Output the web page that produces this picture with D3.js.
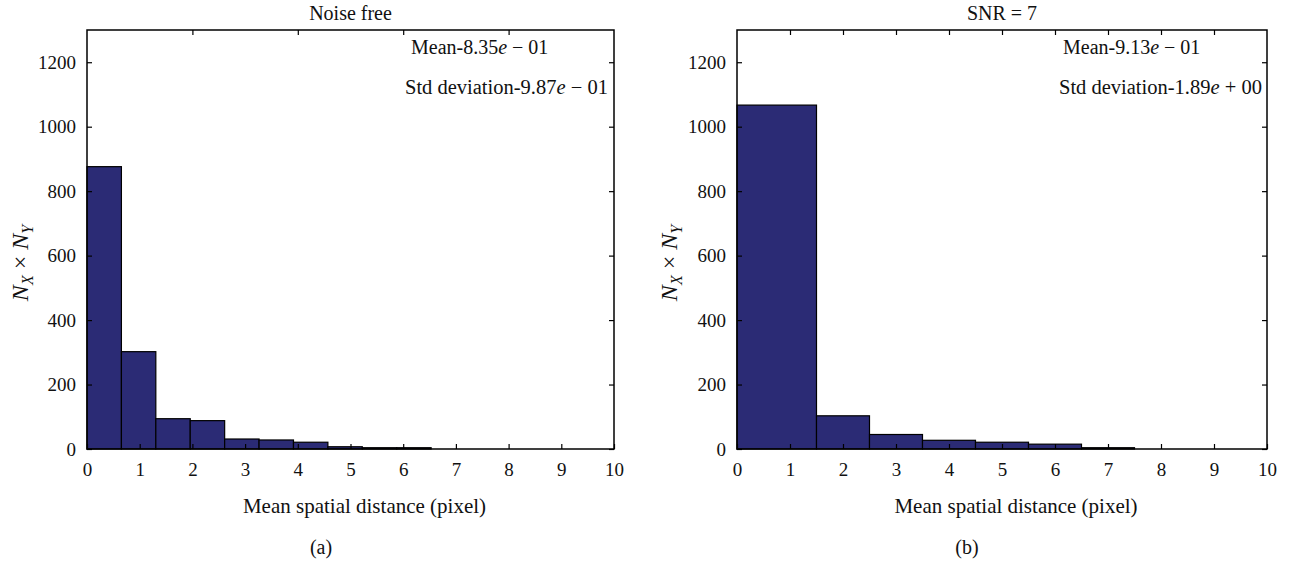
<!DOCTYPE html>
<html>
<head>
<meta charset="utf-8">
<script src="https://cdn.jsdelivr.net/npm/d3@7"></script>
<style>
  body { margin: 0; background: #fff; }
  text { font-family: "Liberation Serif", "DejaVu Serif", serif; fill: #111; }
</style>
</head>
<body>
<div id="chart"></div>
<script>
// histogram data
const leftEdges = [0, 0.653, 1.306, 1.959, 2.612, 3.265, 3.918, 4.571, 5.224, 5.877, 6.53];
const leftCounts = [876, 302, 94, 88, 31, 28, 21, 7, 4, 4];
const rightEdges = [0, 1.5, 2.5, 3.5, 4.5, 5.5, 6.5, 7.5];
const rightCounts = [1067, 103, 45, 27, 21, 15, 4];

const xTicks = [0, 1, 2, 3, 4, 5, 6, 7, 8, 9, 10];
const yTicks = [0, 200, 400, 600, 800, 1000, 1200];
const leftTopTicks = [2, 4, 6, 8];
const rightTopTicks = [1, 2, 3, 4, 5, 6, 7, 8, 9];

const width = 1291, height = 561;
const barColor = "#2b2b75";

let svg = d3.select("#chart")
    .append("svg")
    .attr("width", width)
    .attr("height", height);

function drawPanel(opts) {
    let x = d3.scaleLinear().domain([0, 10]).range([opts.x0, opts.x1]);
    let y = d3.scaleLinear().domain([0, 1300]).range([449, 30]);

    let g = svg.append("g");

    let bins = opts.counts.map((c, i) => ({x0: opts.edges[i], x1: opts.edges[i + 1], n: c}));

    g.selectAll("rect.bar")
        .data(bins)
        .enter()
        .append("rect")
        .attr("class", "bar")
        .attr("x", d => x(d.x0))
        .attr("y", d => y(d.n))
        .attr("width", d => x(d.x1) - x(d.x0))
        .attr("height", d => y(0) - y(d.n))
        .attr("fill", barColor)
        .attr("stroke", "#000")
        .attr("stroke-width", 1.2);

    // frame
    g.append("rect")
        .attr("x", x(0))
        .attr("y", y(1300))
        .attr("width", x(10) - x(0))
        .attr("height", y(0) - y(1300))
        .attr("fill", "none")
        .attr("stroke", "#000")
        .attr("stroke-width", 1.5);

    // bottom axis, ticks point inward
    let bottom = g.append("g")
        .attr("transform", `translate(0, ${y(0)})`)
        .call(d3.axisBottom(x).tickValues(xTicks).tickSize(-5).tickPadding(14).tickFormat(d3.format("d")));
    bottom.select(".domain").remove();

    let top = g.append("g")
        .attr("transform", `translate(0, ${y(1300)})`)
        .call(d3.axisTop(x).tickValues(opts.topTicks).tickSize(-5).tickFormat(""));
    top.select(".domain").remove();

    let left = g.append("g")
        .attr("transform", `translate(${x(0)}, 0)`)
        .call(d3.axisLeft(y).tickValues(yTicks).tickSize(-5).tickPadding(11).tickFormat(d3.format("d")));
    left.select(".domain").remove();

    let right = g.append("g")
        .attr("transform", `translate(${x(10)}, 0)`)
        .call(d3.axisRight(y).tickValues(yTicks).tickSize(-5).tickFormat(""));
    right.select(".domain").remove();

    g.selectAll(".tick line").attr("stroke", "#000").attr("stroke-width", 1.2);
    g.selectAll(".tick text")
        .style("font-family", "Liberation Serif, serif")
        .style("font-size", "19px")
        .attr("fill", "#111");

    // title
    g.append("text")
        .attr("x", (x(0) + x(10)) / 2)
        .attr("y", 20)
        .style("text-anchor", "middle")
        .style("font-size", "20px")
        .text(opts.title);

    // stats
    let m = g.append("text")
        .attr("x", opts.meanX)
        .attr("y", 54)
        .style("font-size", "20px");
    m.append("tspan").text(opts.mean[0]);
    m.append("tspan").style("font-style", "italic").text("e");
    m.append("tspan").text(opts.mean[1]);

    let s = g.append("text")
        .attr("x", opts.stdX)
        .attr("y", 94)
        .style("font-size", "20.5px");
    s.append("tspan").text(opts.std[0]);
    s.append("tspan").style("font-style", "italic").text("e");
    s.append("tspan").text(opts.std[1]);

    // x label
    g.append("text")
        .attr("x", (x(0) + x(10)) / 2 + 14)
        .attr("y", 513)
        .style("text-anchor", "middle")
        .style("font-size", "21px")
        .text("Mean spatial distance (pixel)");

    g.append("text")
        .attr("x", opts.capX)
        .attr("y", 554)
        .style("text-anchor", "middle")
        .style("font-size", "20px")
        .text(opts.caption);

    // y label N_X x N_Y
    let yl = g.append("text")
        .attr("transform", `translate(${opts.yLabelX}, 263) rotate(-90)`)
        .style("text-anchor", "middle")
        .style("font-size", "24px");
    yl.append("tspan").style("font-style", "italic").text("N");
    yl.append("tspan").style("font-style", "italic").style("font-size", "16px").attr("dy", 5).text("X");
    yl.append("tspan").attr("dy", -5).text(" \u00d7 ");
    yl.append("tspan").style("font-style", "italic").text("N");
    yl.append("tspan").style("font-style", "italic").style("font-size", "16px").attr("dy", 5).text("Y");
}

drawPanel({
    x0: 87, x1: 614,
    edges: leftEdges, counts: leftCounts, topTicks: leftTopTicks,
    title: "Noise free",
    mean: ["Mean-8.35", " \u2212 01"], meanX: 411,
    std: ["Std deviation-9.87", " \u2212 01"], stdX: 405,
    caption: "(a)", capX: 321, yLabelX: 28
});

drawPanel({
    x0: 737, x1: 1267,
    edges: rightEdges, counts: rightCounts, topTicks: rightTopTicks,
    title: "SNR = 7",
    mean: ["Mean-9.13", " \u2212 01"], meanX: 1063,
    std: ["Std deviation-1.89", " + 00"], stdX: 1059,
    caption: "(b)", capX: 967, yLabelX: 677
});
</script>
</body>
</html>
